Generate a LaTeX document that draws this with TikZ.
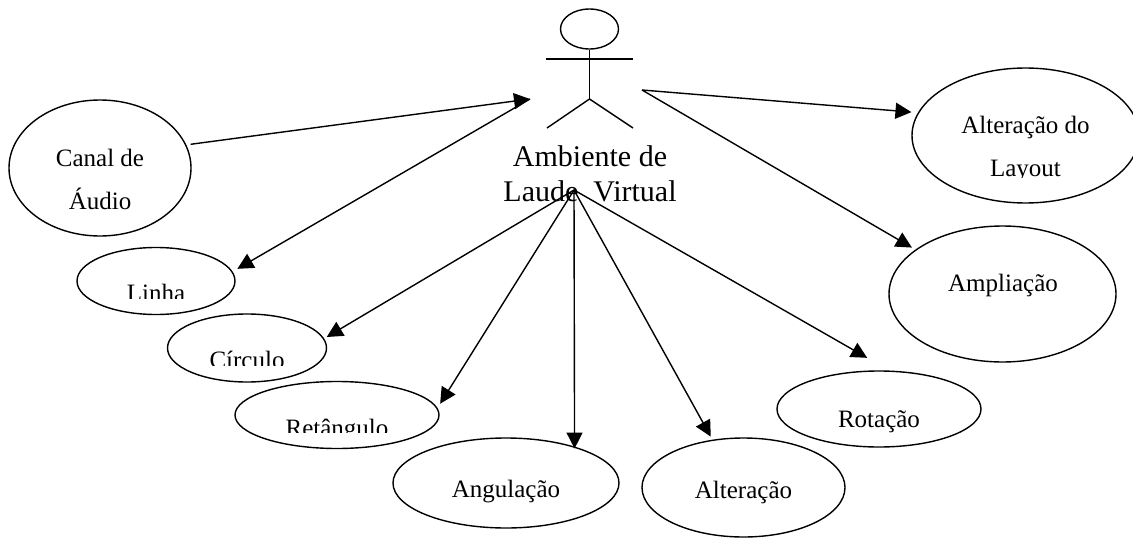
\documentclass[tikz,border=0pt]{standalone}
\usepackage{fontspec}
\setmainfont{Liberation Serif}
\usetikzlibrary{shapes.geometric,arrows.meta}
\tikzset{
  usecase/.style={draw,ellipse,inner sep=0pt,line width=1.4pt},
  label/.style={anchor=base,inner sep=0pt,font=\fontsize{25}{25}\selectfont},
  biglabel/.style={anchor=base,inner sep=0pt,font=\fontsize{30}{30}\selectfont},
  conn/.style={line width=1.4pt},
  arrowconn/.style={conn,-{Triangle[length=16pt,width=16pt]}},
  limb/.style={line width=1.4pt}
}
\begin{document}
\begin{tikzpicture}[x=1pt,y=-1pt]
\useasboundingbox (0,0) rectangle (1133,538);
\node[usecase,minimum width=182pt,minimum height=136pt] (canal) at (100,168) {};
\node[usecase,minimum width=158pt,minimum height=67pt] (linha) at (156,281) {};
\node[usecase,minimum width=159pt,minimum height=68pt] (circulo) at (247,348) {};
\node[usecase,minimum width=204pt,minimum height=67pt] (retangulo) at (337,415) {};
\node[usecase,minimum width=226pt,minimum height=90pt] (angulacao) at (506,483) {};
\node[usecase,minimum width=203pt,minimum height=99pt] (alteracao) at (743.5,487.5) {};
\node[usecase,minimum width=204pt,minimum height=76pt] (rotacao) at (879,409) {};
\node[usecase,minimum width=227pt,minimum height=135pt] (layout) at (1025.5,135.5) {};
\node[usecase,minimum width=227pt,minimum height=136pt] (ampliacao) at (1002.5,294) {};
% actor
\node[usecase,minimum width=58pt,minimum height=40pt] (head) at (589.5,29) {};
\coordinate (armL) at (546,59);
\coordinate (armR) at (633,59);
\coordinate (hip) at (589.5,99);
\coordinate (legL) at (547,128);
\coordinate (legR) at (633,128);
\draw[limb] (head.south) -- (hip);
\draw[limb] (armL) -- (armR);
\draw[limb] (legL) -- (hip) -- (legR);
% texts
\node[biglabel] (t1) at (590,166) {Ambiente de};
\node[biglabel] (t2) at (590,201) {Laude\ \ Virtual};
\node[label] (t3) at (100,166) {Canal de};
\node[label] (t4) at (100,209) {Áudio};
\node[label] (t5) at (1025.5,133) {Alteração do};
\begin{scope}\clip (950,140) rectangle (1100,177);
\node[label] (t6) at (1025.5,176) {Layout};\end{scope}
\begin{scope}\clip (80,270) rectangle (230,298);
\node[label] (t7) at (156,301) {Linha};\end{scope}
\begin{scope}\clip (170,340) rectangle (320,365);
\node[label] (t8) at (247,368) {Círculo};\end{scope}
\begin{scope}\clip (240,400) rectangle (430,432);
\node[label] (t9) at (337,436) {Retângulo};\end{scope}
\node[label] (t10) at (506,497) {Angulação};
\node[label] (t11) at (743.5,498) {Alteração};
\node[label] (t12) at (879,427) {Rotação};
\node[label] (t13) at (1003,291) {Ampliação};
% connectors
\coordinate (hubL) at (530,99);
\coordinate (hubB) at (574,190);
\coordinate (hubR) at (642,90);
\draw[arrowconn,shorten <=4.3pt] (canal.15.3) -- (hubL);
\draw[arrowconn,shorten >=5.5pt] (hubL) -- (linha.7.6);
\draw[arrowconn,shorten >=3pt] (hubB) -- (circulo.7.1);
\draw[arrowconn,shorten >=5pt] (hubB) -- (retangulo.4.5);
\draw[arrowconn,shorten >=-2pt] (hubB) -- (angulacao.28.2);
\draw[arrowconn,shorten >=3.5pt] (hubB) -- (alteracao.123.8);
\draw[arrowconn,shorten >=25.5pt] (hubB) -- (rotacao.75);
\draw[arrowconn,shorten >=6.5pt] (hubR) -- (layout.168.4);
\draw[arrowconn,shorten >=4pt] (hubR) -- (ampliacao.153.2);
\end{tikzpicture}
\end{document}
